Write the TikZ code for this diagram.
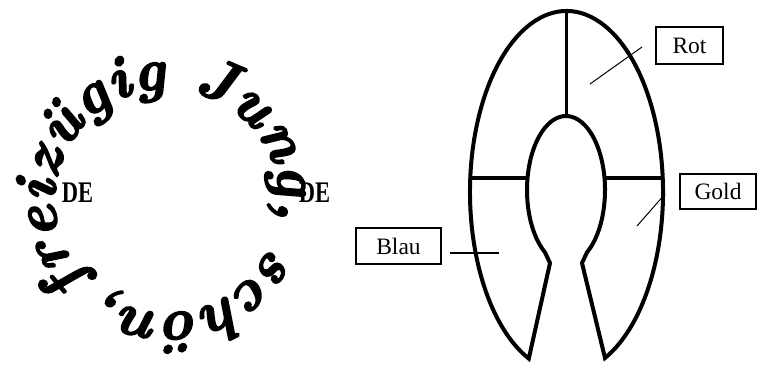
\documentclass[tikz,border=0pt]{standalone}
\usepackage{fontspec}
\usepackage{graphicx}
\newfontfamily\labfont{Liberation Serif}
\newfontfamily\delabfont{Liberation Serif Bold}
\newfontfamily\circfont{lmroman10-bolditalic.otf}[FakeBold=3]
\newcommand\circstyle{\circfont\fontsize{59}{59}\selectfont}
\usetikzlibrary{decorations.text}
\begin{document}
\begin{tikzpicture}[x=1pt,y=1pt,
  outline/.style={line width=4pt, line join=miter},
  divider/.style={line width=3.5pt},
  lbox/.style={draw, line width=1.1pt, inner sep=0pt, font=\labfont\fontsize{23.5}{26}\selectfont},
  lead/.style={line width=1pt},
  delabel/.style={font=\delabfont\fontsize{22.5}{24}\selectfont, inner sep=0pt}]
\useasboundingbox (0,0) rectangle (757,367);

% DE labels
\node[delabel] (deL) at (77.5,174) {\scalebox{1}[1.33]{DE}};
\node[delabel] (deR) at (314.5,174) {\scalebox{1}[1.33]{DE}};

% text on circle
\path[decorate, decoration={text along path,
   text={|\circstyle|freizügig Jung, schön,},
   text align={fit to path}}]
  (167,166) ++(226:112) arc[start angle=226, end angle=-124, radius=112];

% horseshoe shape
\draw[outline] (566.5,175) ++(247:96.5 and 181) coordinate (ltip)
  arc[start angle=247, end angle=-66.5, x radius=96.5, y radius=181] coordinate (rtip)
  -- (582,104) coordinate (rneck)
  -- ([shift={(566,177)}]-57.4:39 and 74)
  arc[start angle=-57.4, end angle=237.4, x radius=39, y radius=74]
  -- (550,104) coordinate (lneck) -- cycle;

% dividers
\draw[divider] (566.5,355) -- (566.5,252);
\draw[divider] (470,189) -- (527.5,189);
\draw[divider] (604.5,189) -- (663,189);

% labels
\node[lbox, minimum width=67pt, minimum height=37pt] (rot) at (689.5,321.5) {Rot};
\node[lbox, minimum width=76pt, minimum height=35pt] (gold) at (718,175.5) {Gold};
\node[lbox, minimum width=85pt, minimum height=36pt] (blau) at (398.5,121) {Blau};

% leader lines
\coordinate (rotA) at (642,320);
\coordinate (rotB) at (590,283);
\coordinate (goldA) at (665,173);
\coordinate (goldB) at (637,141);
\coordinate (blauA) at (450,114);
\coordinate (blauB) at (499,114);
\draw[lead] (rotA) -- (rotB);
\draw[lead] (goldA) -- (goldB);
\draw[lead, line width=2pt] (blauA) -- (blauB);
\end{tikzpicture}
\end{document}
